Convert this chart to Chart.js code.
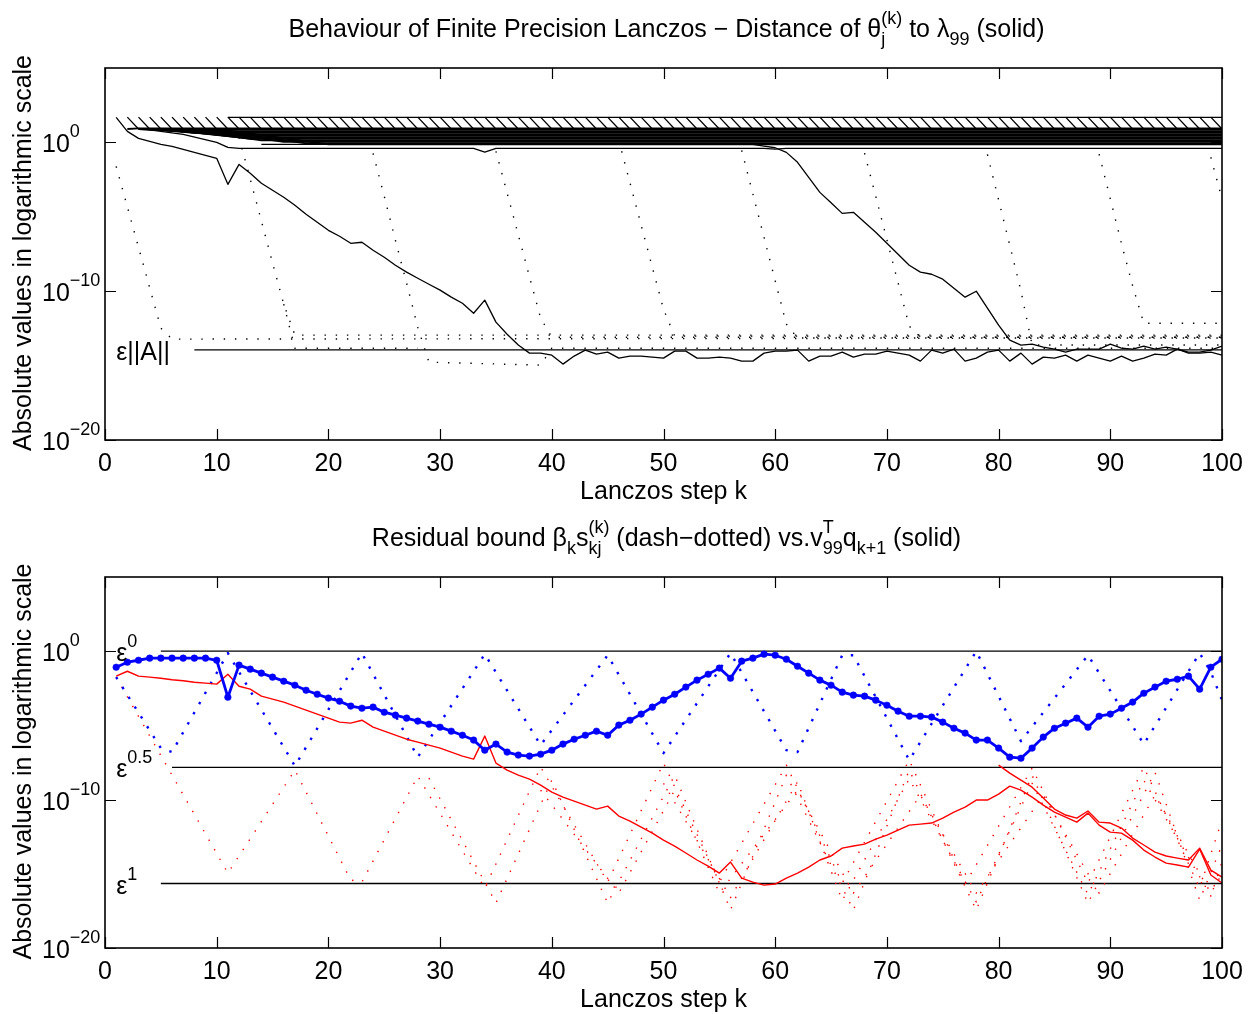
<!DOCTYPE html>
<html><head><meta charset="utf-8">
<script src="https://cdn.jsdelivr.net/npm/chart.js@4.4.1/dist/chart.umd.min.js"></script>
<style>
html,body{margin:0;padding:0;background:#fff;}
#wrap{position:relative;width:1257px;height:1014px;overflow:hidden;background:#fff;}
canvas{position:absolute;left:0;}
</style></head><body>
<div id="wrap">
<canvas id="cTop" width="1257" height="507" style="top:0px"></canvas>
<canvas id="cBot" width="1257" height="507" style="top:507px"></canvas>
</div>
<script>
// ---------------- DATA ----------------
const steps = [1,2,3,4,5,6,7,8,9,10,11,12,13,14,15,16,17,18,19,20,21,22,23,24,25,26,27,28,29,30,
31,32,33,34,35,36,37,38,39,40,41,42,43,44,45,46,47,48,49,50,51,52,53,54,55,56,57,58,59,60,
61,62,63,64,65,66,67,68,69,70,71,72,73,74,75,76,77,78,79,80,81,82,83,84,85,86,87,88,89,90,
91,92,93,94,95,96,97,98,99,100];
const xTickValues = [0,10,20,30,40,50,60,70,80,90,100];
const yTickExponents = [-20,-10,0];

// Top panel (log10 of |theta_j^(k) - lambda_99|)
const ritz1Log = [1.68,0.74,0.27,0.07,-0.13,-0.27,-0.47,-0.67,-0.87,-1.07,
 -2.82,-1.48,-2.08,-2.75,-3.22,-3.69,-4.23,-4.83,-5.37,-5.91,
 -6.31,-6.78,-6.71,-7.25,-7.72,-8.26,-8.72,-9.13,-9.53,-9.93,
 -10.40,-10.81,-11.48,-10.60,-12.08,-12.89,-13.62,-14.16,-14.16,-14.30,
 -14.90,-14.36,-13.96,-14.23,-14.09,-14.50,-14.36,-14.36,-14.43,-14.50,
 -14.03,-14.03,-14.50,-14.50,-14.43,-14.50,-14.70,-14.70,-14.16,-14.03,
 -14.03,-13.96,-14.70,-14.36,-14.36,-14.09,-14.43,-14.23,-14.23,-14.03,
 -14.16,-14.30,-14.70,-13.96,-14.16,-13.89,-14.70,-14.50,-14.09,-13.96,
 -14.70,-14.16,-14.90,-14.43,-14.50,-14.30,-14.70,-14.30,-14.50,-14.70,
 -14.36,-14.70,-14.50,-14.23,-14.30,-13.89,-14.16,-14.16,-14.09,-14.30];
const ritz2K = [14,58,59,60,61,62,63,64,65,66,67,68,69,70,71,72,73,74,75,76,77,78,79,80,
 81,82,83,84,85,86,87,88,89,90,91,92,93,94,95,96,97,98,99,100];
const ritz2Log = [-0.13,-0.13,-0.25,-0.36,-0.67,-1.34,-2.35,-3.36,-4.06,-4.77,-4.70,-5.37,-6.04,-6.78,
 -7.52,-8.26,-8.72,-8.86,-9.19,-9.80,-10.40,-10.00,-11.14,-12.28,-13.29,-13.62,-13.56,-13.76,
 -13.89,-14.09,-13.89,-13.89,-13.89,-13.56,-13.83,-13.89,-13.69,-13.89,-13.76,-13.89,-14.09,
 -14.09,-13.96,-13.69];
const ritzTopK = [11,100];
const ritzTopLog = [1.68,1.68];
const hatchTopLog = 1.70;
const hatchEntryLog = 0.90;
const bandLevelLog = [0.94,0.84,0.74,0.64,0.54,0.44,0.34,0.24,0.14,0.04,-0.06,-0.13];
const bandStartK  = [2,3,3,4,4,5,5,6,7,8,9,10];
const bandSettleK = [3,5,7,8,10,11,12,13,14,16,18,20];
const bandEdgeK   = [3,7,10,11,12,33,34,35,59,60,61,100];
const bandEdgeLog = [0.94,0.54,0.0,-0.33,-0.40,-0.40,-0.65,-0.40,-0.40,-0.45,-0.40,-0.40];
const ghostK = [
 [1,5,6,100],
 [12,13,14,15,16,17,100],
 [16,17,28],
 [24,25,26,27,28,29,39,40,100],
 [35,36,37,38,39,40,100],
 [46,47,48,49,50,51,100],
 [57,58,59,60,61,62,100],
 [68,69,70,71,72,73,100],
 [79,80,81,82,83,100],
 [89,90,91,92,93,100],
 [99,100]];
const ghostLog = [
 [-1.61,-12.48,-13.22,-13.15],
 [0.34,-2.46,-5.28,-8.10,-10.87,-12.95,-12.95],
 [-10.87,-13.83,-13.83],
 [-0.74,-3.62,-6.58,-9.46,-12.42,-14.77,-14.97,-13.83,-13.83],
 [-0.60,-3.40,-6.21,-9.02,-11.81,-13.09,-13.09],
 [0.13,-2.72,-5.56,-8.39,-11.21,-13.02,-13.02],
 [-0.54,-3.46,-6.38,-9.30,-12.21,-13.15,-13.15],
 [-0.72,-3.62,-6.54,-9.44,-12.35,-13.09,-13.09],
 [-0.81,-3.87,-6.91,-9.98,-13.62,-13.62],
 [-0.79,-3.79,-6.80,-9.64,-12.15,-12.15],
 [-1.0,-3.8]];
const epsNormA = 1.15e-14;
const epsNormAStartK = 8;

// Bottom panel (log10 values)
const blueSolidLog = [-1.08,-0.74,-0.61,-0.47,-0.47,-0.47,-0.47,-0.47,-0.47,-0.61,
 -3.10,-0.94,-1.21,-1.48,-1.75,-2.02,-2.29,-2.63,-2.90,-3.16,
 -3.37,-3.70,-3.84,-3.77,-4.11,-4.31,-4.51,-4.71,-4.92,-5.12,
 -5.39,-5.66,-5.99,-6.67,-6.26,-6.80,-7.00,-7.07,-6.94,-6.67,
 -6.26,-5.93,-5.66,-5.39,-5.66,-4.98,-4.65,-4.24,-3.77,-3.30,
 -2.90,-2.42,-1.95,-1.55,-1.14,-1.82,-0.67,-0.47,-0.20,-0.27,
 -0.54,-1.01,-1.48,-1.95,-2.29,-2.76,-2.96,-3.03,-3.30,-3.64,
 -4.04,-4.38,-4.38,-4.44,-4.78,-5.19,-5.52,-5.99,-5.99,-6.53,
 -7.14,-7.21,-6.53,-5.79,-5.19,-4.85,-4.51,-5.12,-4.38,-4.24,
 -3.84,-3.43,-2.83,-2.42,-2.02,-1.89,-1.68,-2.56,-1.08,-0.54];
const redSolidLog = [-1.68,-1.35,-1.68,-1.75,-1.82,-1.92,-1.99,-2.09,-2.15,-2.22,
 -1.55,-2.36,-2.56,-3.03,-3.23,-3.43,-3.70,-3.97,-4.24,-4.51,
 -4.78,-4.85,-4.65,-5.12,-5.39,-5.66,-5.93,-6.13,-6.33,-6.53,
 -6.80,-7.07,-7.27,-5.72,-7.54,-8.01,-8.35,-8.62,-9.02,-9.49,
 -9.83,-10.10,-10.37,-10.64,-10.44,-11.11,-11.45,-11.85,-12.26,-12.73,
 -13.13,-13.60,-14.07,-14.48,-14.95,-14.21,-15.29,-15.56,-15.76,-15.69,
 -15.29,-14.95,-14.55,-14.07,-13.80,-13.27,-13.13,-13.00,-12.66,-12.39,
 -12.05,-11.72,-11.65,-11.58,-11.25,-10.84,-10.51,-10.03,-10.03,-9.63,
 -9.09,-9.36,-9.83,-10.37,-10.84,-11.18,-11.52,-10.91,-11.72,-12.19,
 -12.26,-12.73,-13.40,-13.87,-14.28,-14.41,-14.55,-13.33,-15.08,-15.62];
const redSolid2K = [80,81,82,83,84,85,86,87,88,89,90,91,92,93,94,95,96,97,98,99,100];
const redSolid2Log = [-7.68,-8.22,-8.69,-9.16,-9.90,-10.64,-11.04,-11.25,-10.77,-11.52,-11.58,
 -11.92,-12.59,-13.06,-13.54,-13.80,-13.94,-14.07,-13.27,-14.75,-15.22];
const blueDotK = [1,5,6,11,17,23,28,34,39,45,50,56,61,62,66,67,72,78,82,88,93,98,99,100];
const blueDotLog = [-1.75,-6.53,-6.80,-0.13,-7.74,-0.13,-7.14,-0.20,-6.33,-0.27,-6.87,-0.13,
 -6.67,-6.80,-0.27,-0.27,-7.34,0,-6.06,-0.27,-6.26,-0.13,-1.41,-3.30];
const redDotK = [
 [1,11,17,22,23,28,34,39,45,50,55,61,66,72,77,83,88,93,98,100],
 [29,35,40,45,51,56,61,67,72,78,83,88,94,98,100],
 [39,46,51,55,62,67,73,78,84,89,94,99,100],
 [50,56,62,66,72,78,83,88,93,99,100]];
const redDotLog = [
 [-1.75,-14.95,-8.01,-15.42,-15.56,-8.42,-15.96,-7.81,-15.56,-7.54,-15.56,-7.68,-15.62,-7.34,-15.69,-7.88,-15.62,-7.81,-15.96,-11.38],
 [-8.55,-16.97,-8.69,-16.97,-8.35,-17.44,-8.35,-17.44,-8.01,-17.44,-8.35,-16.97,-8.15,-16.77,-13.06],
 [-9.36,-16.30,-9.36,-16.30,-9.36,-16.30,-9.70,-16.30,-9.70,-16.30,-9.70,-16.30,-15.0],
 [-8.90,-16.60,-8.80,-16.80,-8.60,-16.90,-8.90,-16.40,-8.70,-16.50,-14.2]];
const machineEps = 2.22e-16;
const epsPowers = [0, 0.5, 1];
const epsPowerLabels = ['0', '0.5', '1'];
const epsLineStartK = [5, 6, 5];

// ---------------- HELPERS ----------------
const FONT = '"Liberation Sans", Arial, Helvetica, sans-serif';
const font = s => s + 'px ' + FONT;
const pts = (ks, logs) => ks.map((k, i) => ({x: k, y: Math.pow(10, logs[i])}));

function drawRich(ctx, parts, x, y, align, size, small, supOff, subOff) {
  let w = 0;
  const items = parts.map(p => {
    if (typeof p === 'string') { ctx.font = font(size); const m = ctx.measureText(p).width; w += m; return {t: p, w: m}; }
    ctx.font = font(small);
    const ws = p.sub ? ctx.measureText(p.sub).width : 0;
    const wp = p.sup ? ctx.measureText(p.sup).width : 0;
    const m = Math.max(ws, wp); w += m; return {sub: p.sub, sup: p.sup, w: m};
  });
  let cx = align === 'center' ? x - w / 2 : (align === 'right' ? x - w : x);
  ctx.textAlign = 'left'; ctx.textBaseline = 'alphabetic';
  items.forEach(it => {
    if (it.t !== undefined) { ctx.font = font(size); ctx.fillText(it.t, cx, y); }
    else {
      ctx.font = font(small);
      if (it.sup) ctx.fillText(it.sup, cx, y - supOff);
      if (it.sub) ctx.fillText(it.sub, cx, y + subOff);
    }
    cx += it.w;
  });
}

function makeDeco(cfg) {
  return {
    id: 'deco',
    afterDraw(chart) {
      const ctx = chart.ctx, ca = chart.chartArea, xs = chart.scales.x, ys = chart.scales.y;
      ctx.save();
      ctx.strokeStyle = '#000'; ctx.fillStyle = '#000';
      ctx.lineWidth = 1.2;
      ctx.beginPath();
      xTickValues.forEach(v => {
        const px = Math.round(xs.getPixelForValue(v)) + 0.5;
        ctx.moveTo(px, ca.bottom); ctx.lineTo(px, ca.bottom - 11);
        ctx.moveTo(px, ca.top); ctx.lineTo(px, ca.top + 11);
      });
      yTickExponents.forEach(e => {
        const py = Math.round(ys.getPixelForValue(Math.pow(10, e))) + 0.5;
        ctx.moveTo(ca.left, py); ctx.lineTo(ca.left + 11, py);
        ctx.moveTo(ca.right, py); ctx.lineTo(ca.right - 11, py);
      });
      ctx.stroke();
      ctx.lineWidth = 1.6;
      ctx.strokeRect(ca.left, ca.top, ca.right - ca.left, ca.bottom - ca.top);
      ctx.font = font(25); ctx.textAlign = 'center'; ctx.textBaseline = 'alphabetic';
      xTickValues.forEach(v => ctx.fillText(String(v), xs.getPixelForValue(v), ca.bottom + 31));
      yTickExponents.forEach(e => {
        const py = ys.getPixelForValue(Math.pow(10, e));
        drawRich(ctx, ['10', {sup: e < 0 ? '\u2212' + (-e) : String(e)}], 42, py + 10, 'left', 25, 18, 15, 0);
      });
      ctx.font = font(25); ctx.textAlign = 'center'; ctx.fillStyle = '#000';
      ctx.fillText('Lanczos step k', (ca.left + ca.right) / 2, ca.bottom + 59);
      ctx.save();
      ctx.translate(31, (ca.top + ca.bottom) / 2 - 1);
      ctx.rotate(-Math.PI / 2);
      ctx.textAlign = 'center';
      ctx.fillText('Absolute values in logarithmic scale', 0, 0);
      ctx.restore();
      drawRich(ctx, cfg.title, (ca.left + ca.right) / 2 + 3, cfg.titleY, 'center', 25, 18, 13, 8);
      cfg.notes.forEach(n => {
        const py = ys.getPixelForValue(n.value);
        drawRich(ctx, n.parts, xs.getPixelForValue(n.k), py + 10, 'left', 25, 18, 14, 0);
      });
      ctx.restore();
    }
  };
}

function baseOptions(padTop, xHeight) {
  return {
    responsive: false, animation: false, devicePixelRatio: 1, events: [],
    layout: {padding: {top: padTop, right: 35, left: 0, bottom: 0}},
    plugins: {legend: {display: false}, tooltip: {enabled: false}, title: {display: false}},
    elements: {line: {tension: 0, borderCapStyle: 'butt', borderJoinStyle: 'round', fill: false},
               point: {radius: 0, hoverRadius: 0}},
    scales: {
      x: {type: 'linear', min: 0, max: 100, grid: {display: false}, border: {display: false},
          ticks: {display: false}, afterFit(s) { s.height = xHeight; }},
      y: {type: 'logarithmic', min: 1e-20, max: 1e5, grid: {display: false}, border: {display: false},
          ticks: {display: false}, afterFit(s) { s.width = 105; }}
    }
  };
}

const lineDs = (data, color, width, dash, order, extra) => Object.assign({
  data, borderColor: color, backgroundColor: color, borderWidth: width, borderDash: dash || [],
  pointRadius: 0, order, spanGaps: false, fill: false
}, extra || {});

// ---------------- TOP CHART ----------------
const topSets = [];
topSets.push(lineDs([{x: epsNormAStartK, y: epsNormA}, {x: 100, y: epsNormA}], '#000', 1.3, null, 0));
topSets.push(lineDs(steps.map((k, i) => ({x: k, y: Math.pow(10, ritz1Log[i])})), '#000', 1.3, null, 1));
topSets.push(lineDs(pts(ritz2K, ritz2Log), '#000', 1.3, null, 1));
topSets.push(lineDs(pts(ritzTopK, ritzTopLog), '#000', 1.4, null, 2));
bandLevelLog.forEach((lv, i) => {
  topSets.push(lineDs(pts([bandStartK[i], bandSettleK[i], 100], [hatchEntryLog, lv, lv]), '#000', 1.8, null, 3));
});
topSets.push(lineDs(pts(bandEdgeK, bandEdgeLog), '#000', 1.3, null, 3));
const hatch = [];
steps.forEach(k => {
  if (k >= 2 && k < 100) {
    hatch.push({x: k, y: Math.pow(10, hatchTopLog)});
    hatch.push({x: k + 1, y: Math.pow(10, hatchEntryLog)});
    hatch.push({x: k + 1, y: null});
  }
});
topSets.push(lineDs(hatch, '#000', 1.3, null, 4));
ghostK.forEach((ks, i) => {
  topSets.push(lineDs(pts(ks, ghostLog[i]), '#000', 1.4, [1.4, 9.8], 5));
});

new Chart(document.getElementById('cTop'), {
  type: 'line',
  data: {datasets: topSets},
  options: baseOptions(68, 67),
  plugins: [makeDeco({
    titleY: 37,
    title: ['Behaviour of Finite Precision Lanczos \u2212 Distance of \u03b8', {sup: '(k)', sub: 'j'}, ' to \u03bb', {sub: '99'}, ' (solid)'],
    notes: [{k: 1, value: epsNormA, parts: ['\u03b5||A||']}]
  })]
});

// ---------------- BOTTOM CHART ----------------
const botSets = [];
botSets.push(lineDs(steps.map((k, i) => ({x: k, y: Math.pow(10, blueSolidLog[i])})), '#0000ff', 2.8, null, 0,
  {pointRadius: 3.3, pointBackgroundColor: '#0000ff', pointBorderColor: '#0000ff', pointBorderWidth: 0.5}));
botSets.push(lineDs(steps.map((k, i) => ({x: k, y: Math.pow(10, redSolidLog[i])})), '#ff0000', 1.4, null, 1));
botSets.push(lineDs(pts(redSolid2K, redSolid2Log), '#ff0000', 1.4, null, 1));
botSets.push(lineDs(pts(blueDotK, blueDotLog), '#0000ff', 2.4, [2.4, 9.2], 2));
redDotK.forEach((ks, i) => botSets.push(lineDs(pts(ks, redDotLog[i]), '#ff0000', 1.4, [1.4, 9.6], 3)));
epsPowers.forEach((p, i) => {
  const v = Math.pow(machineEps, p);
  botSets.push(lineDs([{x: epsLineStartK[i], y: v}, {x: 100, y: v}], '#000', 1.3, null, 4));
});

new Chart(document.getElementById('cBot'), {
  type: 'line',
  data: {datasets: botSets},
  options: baseOptions(70, 66),
  plugins: [makeDeco({
    titleY: 39,
    title: ['Residual bound \u03b2', {sub: 'k'}, 's', {sub: 'kj', sup: '(k)'}, ' (dash\u2212dotted) vs.v', {sub: '99', sup: 'T'}, 'q', {sub: 'k+1'}, ' (solid)'],
    notes: epsPowers.map((p, i) => ({k: 1, value: Math.pow(machineEps, p), parts: ['\u03b5', {sup: epsPowerLabels[i]}]}))
  })]
});
</script>
</body></html>
